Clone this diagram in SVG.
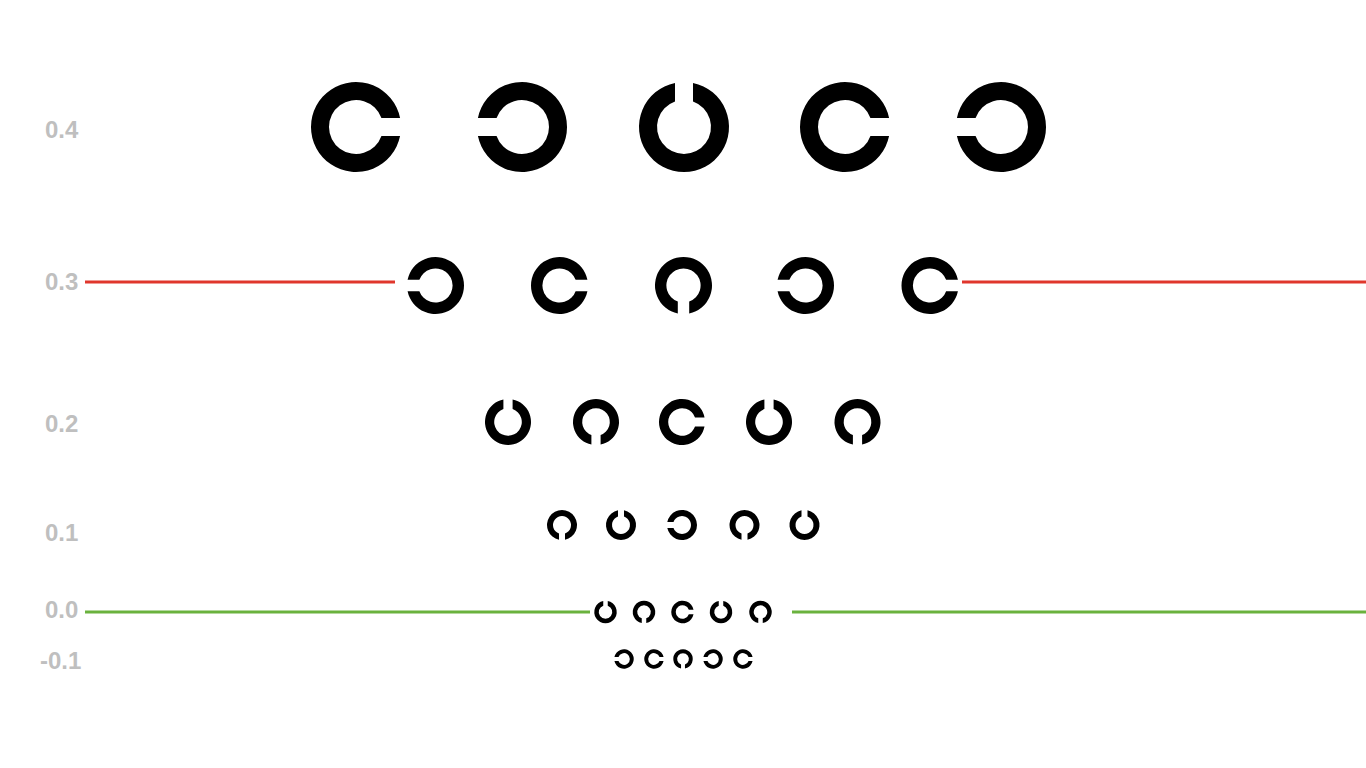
<svg xmlns="http://www.w3.org/2000/svg" xmlns:xlink="http://www.w3.org/1999/xlink" width="1366" height="768" viewBox="0 0 1366 768">
<style>
.lbl{font-family:"Liberation Sans",Arial,sans-serif;font-weight:bold;font-size:24px;fill:#bfbfbf}
.ring{fill:#000;fill-rule:evenodd}
.red{stroke:#e0362c;stroke-width:3;fill:none}
.green{stroke:#6ab23e;stroke-width:3;fill:none}
</style>
<defs>
<path id="C" class="ring" d="M2.449 -0.5 A2.5 2.5 0 1 0 2.449 0.5 L1.414 0.5 A1.5 1.5 0 1 1 1.414 -0.5 Z"/>
</defs>
<rect width="1366" height="768" fill="#fff"/>
<g id="connectors">
<line class="red" x1="85" y1="282" x2="395" y2="282"/>
<line class="red" x1="962" y1="282" x2="1366" y2="282"/>
<line class="green" x1="85" y1="612" x2="590" y2="612"/>
<line class="green" x1="792" y1="612" x2="1366" y2="612"/>
</g>
<g id="labels">
<text class="lbl" x="45" y="138">0.4</text>
<text class="lbl" x="45" y="290">0.3</text>
<text class="lbl" x="45" y="432">0.2</text>
<text class="lbl" x="45" y="541">0.1</text>
<text class="lbl" x="45" y="618">0.0</text>
<text class="lbl" x="40" y="669">-0.1</text>
</g>
<g id="row-0.4">
<use xlink:href="#C" transform="translate(356,127) rotate(0) scale(18)"/>
<use xlink:href="#C" transform="translate(522,127) rotate(180) scale(18)"/>
<use xlink:href="#C" transform="translate(684,127) rotate(270) scale(18)"/>
<use xlink:href="#C" transform="translate(845,127) rotate(0) scale(18)"/>
<use xlink:href="#C" transform="translate(1001,127) rotate(180) scale(18)"/>
</g>
<g id="row-0.3">
<use xlink:href="#C" transform="translate(435.5,285.5) rotate(180) scale(11.4)"/>
<use xlink:href="#C" transform="translate(559.5,285.5) rotate(0) scale(11.4)"/>
<use xlink:href="#C" transform="translate(683.5,285.5) rotate(90) scale(11.4)"/>
<use xlink:href="#C" transform="translate(805.5,285.5) rotate(180) scale(11.4)"/>
<use xlink:href="#C" transform="translate(930,285.5) rotate(0) scale(11.4)"/>
</g>
<g id="row-0.2">
<use xlink:href="#C" transform="translate(508,422) rotate(270) scale(9.2)"/>
<use xlink:href="#C" transform="translate(596,422) rotate(90) scale(9.2)"/>
<use xlink:href="#C" transform="translate(682,422) rotate(0) scale(9.2)"/>
<use xlink:href="#C" transform="translate(769,422) rotate(270) scale(9.2)"/>
<use xlink:href="#C" transform="translate(857.5,422) rotate(90) scale(9.2)"/>
</g>
<g id="row-0.1">
<use xlink:href="#C" transform="translate(562,525) rotate(90) scale(6)"/>
<use xlink:href="#C" transform="translate(621,525) rotate(270) scale(6)"/>
<use xlink:href="#C" transform="translate(682,525) rotate(180) scale(6)"/>
<use xlink:href="#C" transform="translate(744.5,525) rotate(90) scale(6)"/>
<use xlink:href="#C" transform="translate(804.5,525) rotate(270) scale(6)"/>
</g>
<g id="row-0.0">
<use xlink:href="#C" transform="translate(605.5,612) rotate(270) scale(4.5)"/>
<use xlink:href="#C" transform="translate(644,612) rotate(90) scale(4.5)"/>
<use xlink:href="#C" transform="translate(682.5,612) rotate(0) scale(4.5)"/>
<use xlink:href="#C" transform="translate(721,612) rotate(270) scale(4.5)"/>
<use xlink:href="#C" transform="translate(760.5,612) rotate(90) scale(4.5)"/>
</g>
<g id="row-minus-0.1">
<use xlink:href="#C" transform="translate(624,659) rotate(180) scale(3.9)"/>
<use xlink:href="#C" transform="translate(654,659) rotate(0) scale(3.9)"/>
<use xlink:href="#C" transform="translate(683,659) rotate(90) scale(3.9)"/>
<use xlink:href="#C" transform="translate(713,659) rotate(180) scale(3.9)"/>
<use xlink:href="#C" transform="translate(743,659) rotate(0) scale(3.9)"/>
</g>
</svg>
